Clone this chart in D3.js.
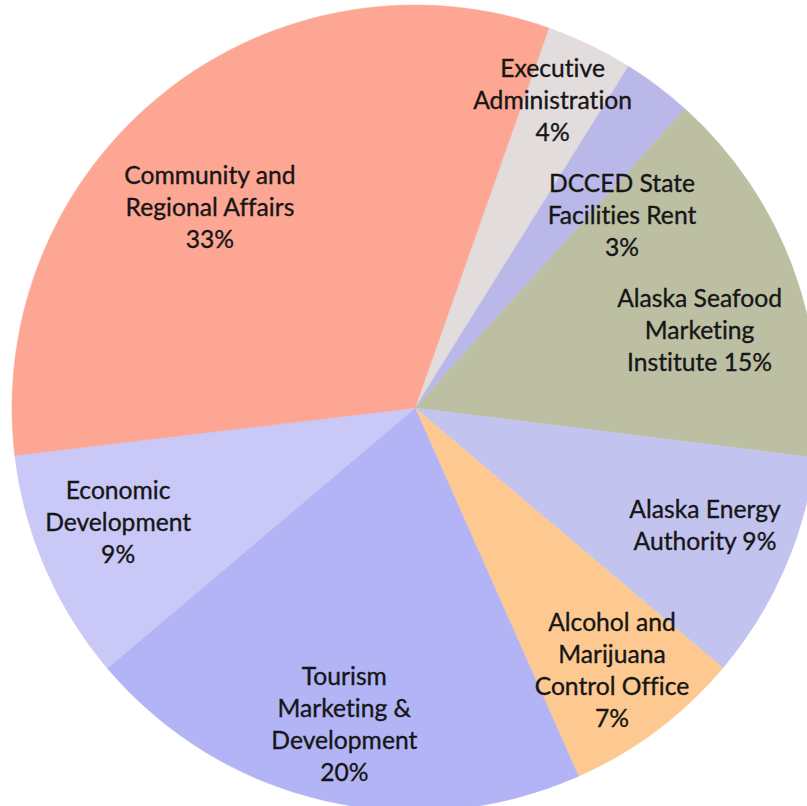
<!DOCTYPE html>
<html>
<head>
<meta charset="utf-8">
<script src="https://cdn.jsdelivr.net/npm/d3@7"></script>
<style>
  html, body { margin: 0; padding: 0; background: #ffffff; }
  svg { display: block; }
  text { font-variant-ligatures: none; font-feature-settings: "liga" 0, "clig" 0; }
</style>
</head>
<body>
<svg id="chart" width="807" height="806"></svg>
<script>
// ---- Data ----
const categories = [
  "Executive Administration",
  "DCCED State Facilities Rent",
  "Alaska Seafood Marketing Institute",
  "Alaska Energy Authority",
  "Alcohol and Marijuana Control Office",
  "Tourism Marketing & Development",
  "Economic Development",
  "Community and Regional Affairs"
];
const values = [3.5, 2.8, 15.3, 9.2, 7.2, 20.5, 9.3, 32.3];
const percentLabels = ["4%", "3%", "15%", "9%", "7%", "20%", "9%", "33%"];
const labelLines = [
  ["Executive", "Administration", "4%"],
  ["DCCED State", "Facilities Rent", "3%"],
  ["Alaska Seafood", "Marketing", "Institute 15%"],
  ["Alaska Energy", "Authority 9%"],
  ["Alcohol and", "Marijuana", "Control Office", "7%"],
  ["Tourism", "Marketing &", "Development", "20%"],
  ["Economic", "Development", "9%"],
  ["Community and", "Regional Affairs", "33%"]
];
const colors = ["#E2DCDD", "#B9B8E8", "#BDBFA3", "#C3C3F0", "#FDC990", "#B2B4F6", "#C9C8F6", "#FDA693"];

// ---- Layout (not data) ----
const cx = 415, cy = 408, radius = 403;
const startDeg = 19.4;
// label anchor in polar form relative to pie centre: [angle deg clockwise from north, distance]
const labelPolar = [[24.1, 337], [47.0, 283], [74.7, 295], [112.1, 313], [143.1, 328], [192.6, 324], [249, 318], [314.4, 287]];
const lineH = 32;

const svg = d3.select("#chart");
const g = svg.append("g").attr("transform", `translate(${cx},${cy})`);

const startA = startDeg * Math.PI / 180;
const pie = d3.pie().sort(null).value(d => d).startAngle(startA).endAngle(startA + 2 * Math.PI);
const arc = d3.arc().innerRadius(0).outerRadius(radius);
const arcs = pie(values);

g.selectAll("path.slice")
  .data(arcs)
  .join("path")
  .attr("class", "slice")
  .attr("d", arc)
  .attr("fill", (d, i) => colors[i])
  .attr("stroke", (d, i) => colors[i])
  .attr("stroke-width", 0.5);

// font size fitted so that "Administration" is ~159px wide (Calibri 26px equivalent)
const fontFamily = "Lato, 'Open Sans', sans-serif";
const probe = svg.append("text").attr("font-family", fontFamily).attr("font-size", 24)
  .style("font-variant-ligatures", "none").text("Administration");
const w = probe.node().getComputedTextLength();
probe.remove();
const fontSize = 24 * 159 / (w || 159);

const labels = g.selectAll("g.lbl")
  .data(arcs)
  .join("g")
  .attr("class", "lbl")
  .attr("transform", (d, i) => {
    const a = labelPolar[i][0] * Math.PI / 180, r = labelPolar[i][1];
    return `translate(${r * Math.sin(a)},${-r * Math.cos(a)})`;
  });

labels.each(function (d, i) {
  const lines = labelLines[i];
  const n = lines.length;
  const t = d3.select(this).append("text")
    .attr("text-anchor", "middle")
    .attr("font-family", fontFamily)
    .attr("font-size", fontSize)
    .attr("fill", "#161616")
    .attr("stroke", "#161616")
    .attr("stroke-width", 0.35);
  lines.forEach((ln, k) => {
    t.append("tspan")
      .attr("x", 0)
      .attr("y", (k - (n - 1) / 2) * lineH)
      .attr("dy", "0.35em")
      .text(ln);
  });
});
</script>
</body>
</html>
